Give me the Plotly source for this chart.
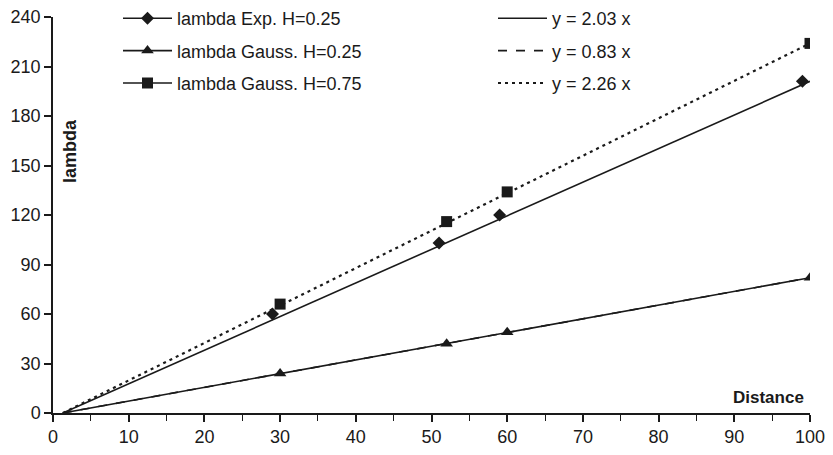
import plotly.graph_objects as go

# ---- data ----
distance_exp = [29, 51, 59, 99]
lambda_exp = [60, 103, 120, 201]
distance_g25 = [30, 52, 60, 100]
lambda_g25 = [24, 42, 49, 82]
distance_g75 = [30, 52, 60, 100]
lambda_g75 = [66, 116, 134, 224]

trend_x = [1.3, 100]
trend_203 = [0, 201]
trend_083 = [0, 82]
trend_226 = [0, 224]

series_names = ["lambda Exp. H=0.25", "lambda Gauss. H=0.25", "lambda Gauss. H=0.75"]
trend_names = ["y = 2.03 x", "y = 0.83 x", "y = 2.26 x"]
x_ticks = list(range(0, 101, 10))
y_ticks = list(range(0, 241, 30))

FONT = "Liberation Sans, Arial, sans-serif"
INK = "#1a1a1a"


def isolated(xs, ys):
    """Insert gaps so that points are not connected (legend keeps line+marker look)."""
    gx, gy = [], []
    for x, y in zip(xs, ys):
        gx += [x, None]
        gy += [y, None]
    return gx, gy


fig = go.Figure()

# trend lines (drawn first, behind markers)
fig.add_trace(go.Scatter(x=trend_x, y=trend_203, mode="lines", name=trend_names[0],
                         line=dict(color=INK, width=1.6), legend="legend2", legendgroup="t1"))
fig.add_trace(go.Scatter(x=trend_x, y=trend_083, mode="lines", showlegend=False,
                         line=dict(color=INK, width=1.6)))
fig.add_trace(go.Scatter(x=trend_x, y=trend_083, mode="lines", name=trend_names[1],
                         line=dict(color=INK, width=1.6, dash="dash"), legend="legend2", legendgroup="t2"))
fig.add_trace(go.Scatter(x=trend_x, y=trend_226, mode="lines", name=trend_names[2],
                         line=dict(color=INK, width=2.2, dash="3px,4px"), legend="legend2", legendgroup="t3"))

symbols = ["diamond", "triangle-up", "square"]
sizes = [10, 11, 11]
for (xs, ys), name, sym, sz, grp in zip(
        [(distance_exp, lambda_exp), (distance_g25, lambda_g25), (distance_g75, lambda_g75)],
        series_names, symbols, sizes, ["s1", "s2", "s3"]):
    gx, gy = isolated(xs, ys)
    fig.add_trace(go.Scatter(x=gx, y=gy, mode="lines+markers", name=name, connectgaps=False,
                             line=dict(color=INK, width=1.6),
                             marker=dict(symbol=sym, size=sz, color=INK, line=dict(width=0)),
                             legend="legend", legendgroup=grp))

axis_common = dict(
    showline=True, linecolor=INK, linewidth=1.5, mirror=False,
    ticks="outside", ticklen=7, tickwidth=1.5, tickcolor=INK,
    showgrid=False, zeroline=False,
    tickfont=dict(family=FONT, size=18, color=INK),
)

legend_common = dict(
    xref="paper", yref="paper", xanchor="left", yanchor="top",
    bgcolor="rgba(0,0,0,0)", borderwidth=0, itemwidth=49,
    font=dict(family=FONT, size=18, color=INK), tracegroupgap=6,
    itemclick=False, itemdoubleclick=False,
)

fig.update_layout(
    width=833, height=455,
    margin=dict(l=53, r=23, t=17, b=42, autoexpand=False),
    paper_bgcolor="white", plot_bgcolor="white",
    font=dict(family=FONT, color=INK),
    xaxis=dict(range=[0, 100], tickvals=x_ticks,
               minor=dict(dtick=5, ticks="outside", ticklen=6, tickwidth=1.2, tickcolor=INK),
               **axis_common),
    yaxis=dict(range=[0, 240], tickvals=y_ticks, **axis_common),
    legend=dict(x=(118 - 53) / 757, y=1 + 17 / 396, **legend_common),
    legend2=dict(x=(493 - 53) / 757, y=1 + 17 / 396, **legend_common),
    annotations=[
        dict(text="<b>lambda</b>", xref="paper", yref="paper", x=(70 - 53) / 757, y=(413 - 151) / 396,
             xanchor="center", yanchor="middle",
             textangle=-90, showarrow=False, font=dict(family=FONT, size=18, color=INK)),
        dict(text="<b>Distance</b>", xref="paper", yref="paper", x=(768 - 53) / 757, y=(413 - 397) / 396,
             xanchor="center", yanchor="middle",
             showarrow=False, font=dict(family=FONT, size=17, color=INK)),
    ],
)

fig.write_html("out.html")
